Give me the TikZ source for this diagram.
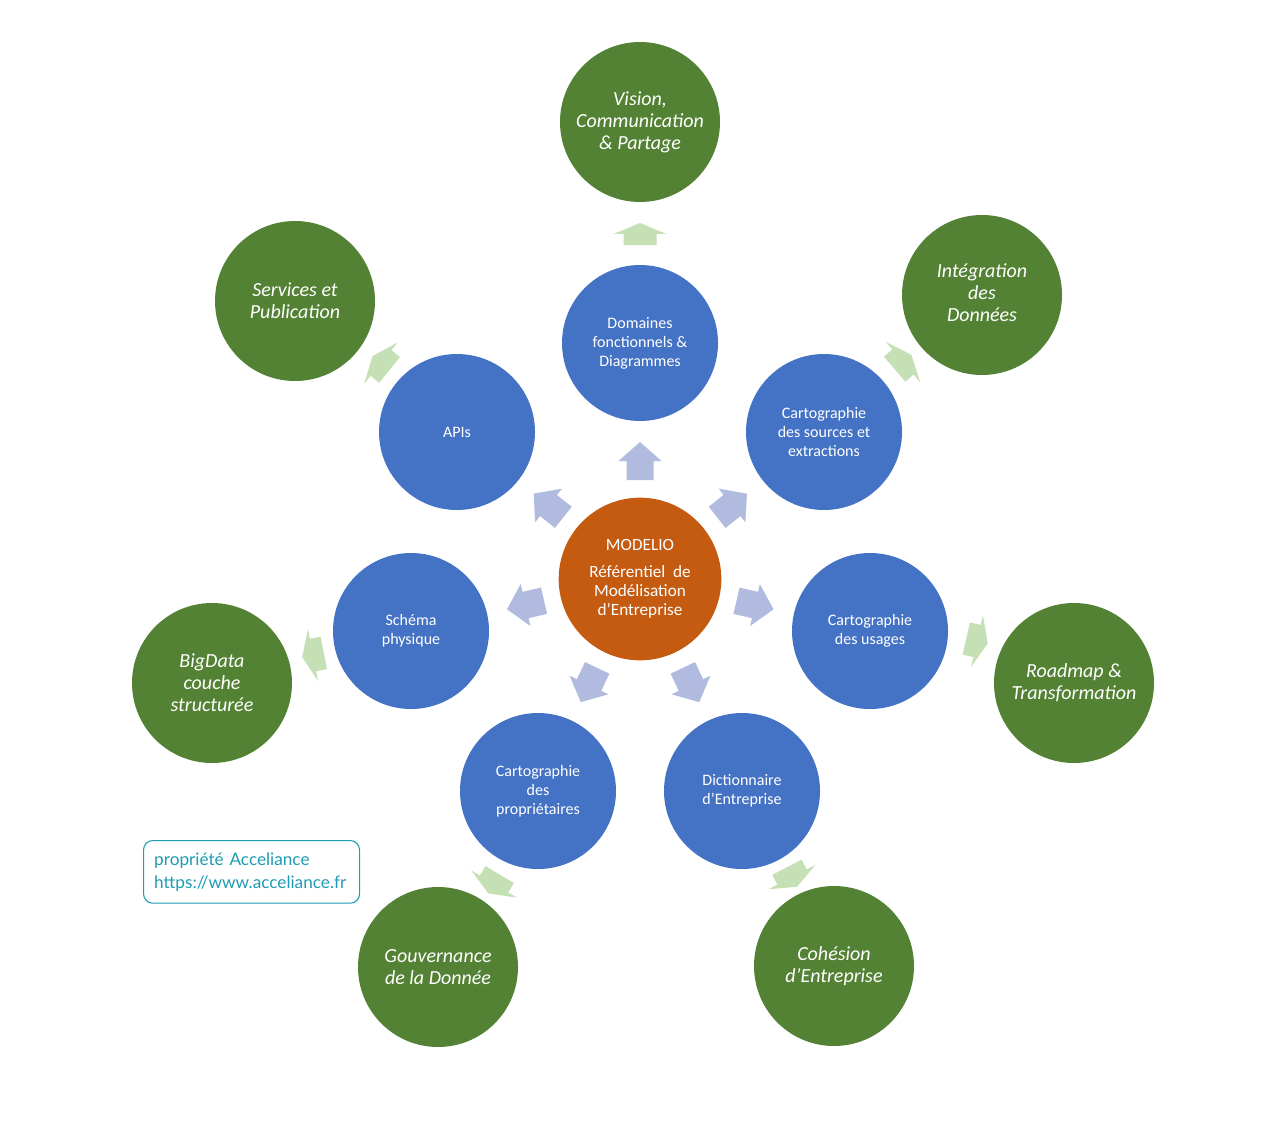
\documentclass[tikz,border=0pt]{standalone}
\usepackage{fontspec}
\setmainfont{Carlito}
\newfontfamily\boxfont{Lato}
\usetikzlibrary{calc}
\definecolor{cblue}{HTML}{4472C4}
\definecolor{cgreen}{HTML}{548235}
\definecolor{corange}{HTML}{C55A11}
\definecolor{carrowb}{HTML}{B0BBDF}
\definecolor{carrowg}{HTML}{C5E0B4}
\definecolor{cteal}{HTML}{1F9CB3}
\begin{document}
\begin{tikzpicture}[x=0.75pt,y=-0.75pt,
  bluec/.style={circle, fill=cblue, minimum size=117pt, inner sep=0pt, text=white, align=center,
    font=\fontsize{12}{14.25}\selectfont},
  greenc/.style={circle, fill=cgreen, minimum size=120pt, inner sep=0pt, text=white, align=center,
    font=\itshape\fontsize{15}{16.5}\selectfont},
  centerc/.style={circle, fill=corange, minimum size=122pt, inner sep=0pt, text=white, align=center,
    font=\fontsize{12.9}{14.25}\selectfont},
  innerarrow/.pic={\fill[carrowb] (-19,-13.5) -- (0,-13.5) -- (0,-21.5) -- (19,0) -- (0,21.5) -- (0,13.5) -- (-19,13.5) -- cycle;},
  greenarrow/.pic={\fill[carrowg] (-11,-16.5) -- (0,-16.5) -- (0,-26.5) -- (11,0) -- (0,26.5) -- (0,16.5) -- (-11,16.5) -- cycle;}
]
\useasboundingbox (0,0) rectangle (1280,1134);
\fill[white] (0,0) rectangle (1280,1134);

% center
\node[centerc] (c) at (640,579) {MODELIO\\[6pt]Référentiel~~de\\Modélisation\\d’Entreprise};

% blue ring
\node[bluec] (b1) at (640,343) {Domaines\\fonctionnels \&\\Diagrammes};
\node[bluec] (b2) at (824,432) {Cartographie\\des sources et\\extractions};
\node[bluec] (b3) at (870,631) {Cartographie\\des usages};
\node[bluec] (b4) at (742,791) {Dictionnaire\\d’Entreprise};
\node[bluec] (b5) at (538,791) {Cartographie\\des\\propriétaires};
\node[bluec] (b6) at (411,631) {Schéma\\physique};
\node[bluec] (b7) at (457,432) {APIs};

% green ring
\node[greenc] (g1) at (640,122) {Vision,\\Communication\\\& Partage};
\node[greenc] (g2) at (982,295) {\raisebox{6pt}{\begin{tabular}{@{}c@{}}Intégration\\des\\Données\end{tabular}}};
\node[greenc] (g3) at (1074,683) {Roadmap \&\\Transformation};
\node[greenc] (g4) at (834,966) {Cohésion\\d’Entreprise};
\node[greenc] (g5) at (438,967) {Gouvernance\\de la Donnée};
\node[greenc] (g6) at (212,683) {BigData\\couche\\structurée};
\node[greenc] (g7) at (295,301) {Services et\\Publication};

% inner arrows (center -> blue)
\pic[rotate=90]    at ($(c)!0.5!(b1)$) {innerarrow};
\pic[rotate=38.4]  at ($(c)!0.5!(b2)$) {innerarrow};
\pic[rotate=-13]   at ($(c)!0.5!(b3)$) {innerarrow};
\pic[rotate=-64.4] at ($(c)!0.5!(b4)$) {innerarrow};
\pic[rotate=-115.6] at ($(c)!0.5!(b5)$) {innerarrow};
\pic[rotate=193]   at ($(c)!0.5!(b6)$) {innerarrow};
\pic[rotate=141.4] at ($(c)!0.5!(b7)$) {innerarrow};

% outer arrows (blue -> green)
\pic[rotate=90]     at (640,234) {greenarrow};
\pic[rotate=40.5]   at (903,362) {greenarrow};
\pic[rotate=-13]    at (977,641) {greenarrow};
\pic[rotate=-62.6]  at (792,877) {greenarrow};
\pic[rotate=-120.8] at (494,884) {greenarrow};
\pic[rotate=191]    at (313,655) {greenarrow};
\pic[rotate=141]    at (381,363) {greenarrow};

% ownership box
\node[draw=cteal, line width=0.8pt, rounded corners=7pt, text=cteal, align=left, anchor=north west,
  minimum width=162pt, minimum height=47pt, inner xsep=8pt, text width=146pt,
  font=\boxfont\fontsize{12.9}{17}\selectfont] (box) at (143,840) {propriété Acceliance\\https://www.acceliance.fr};
\end{tikzpicture}
\end{document}
